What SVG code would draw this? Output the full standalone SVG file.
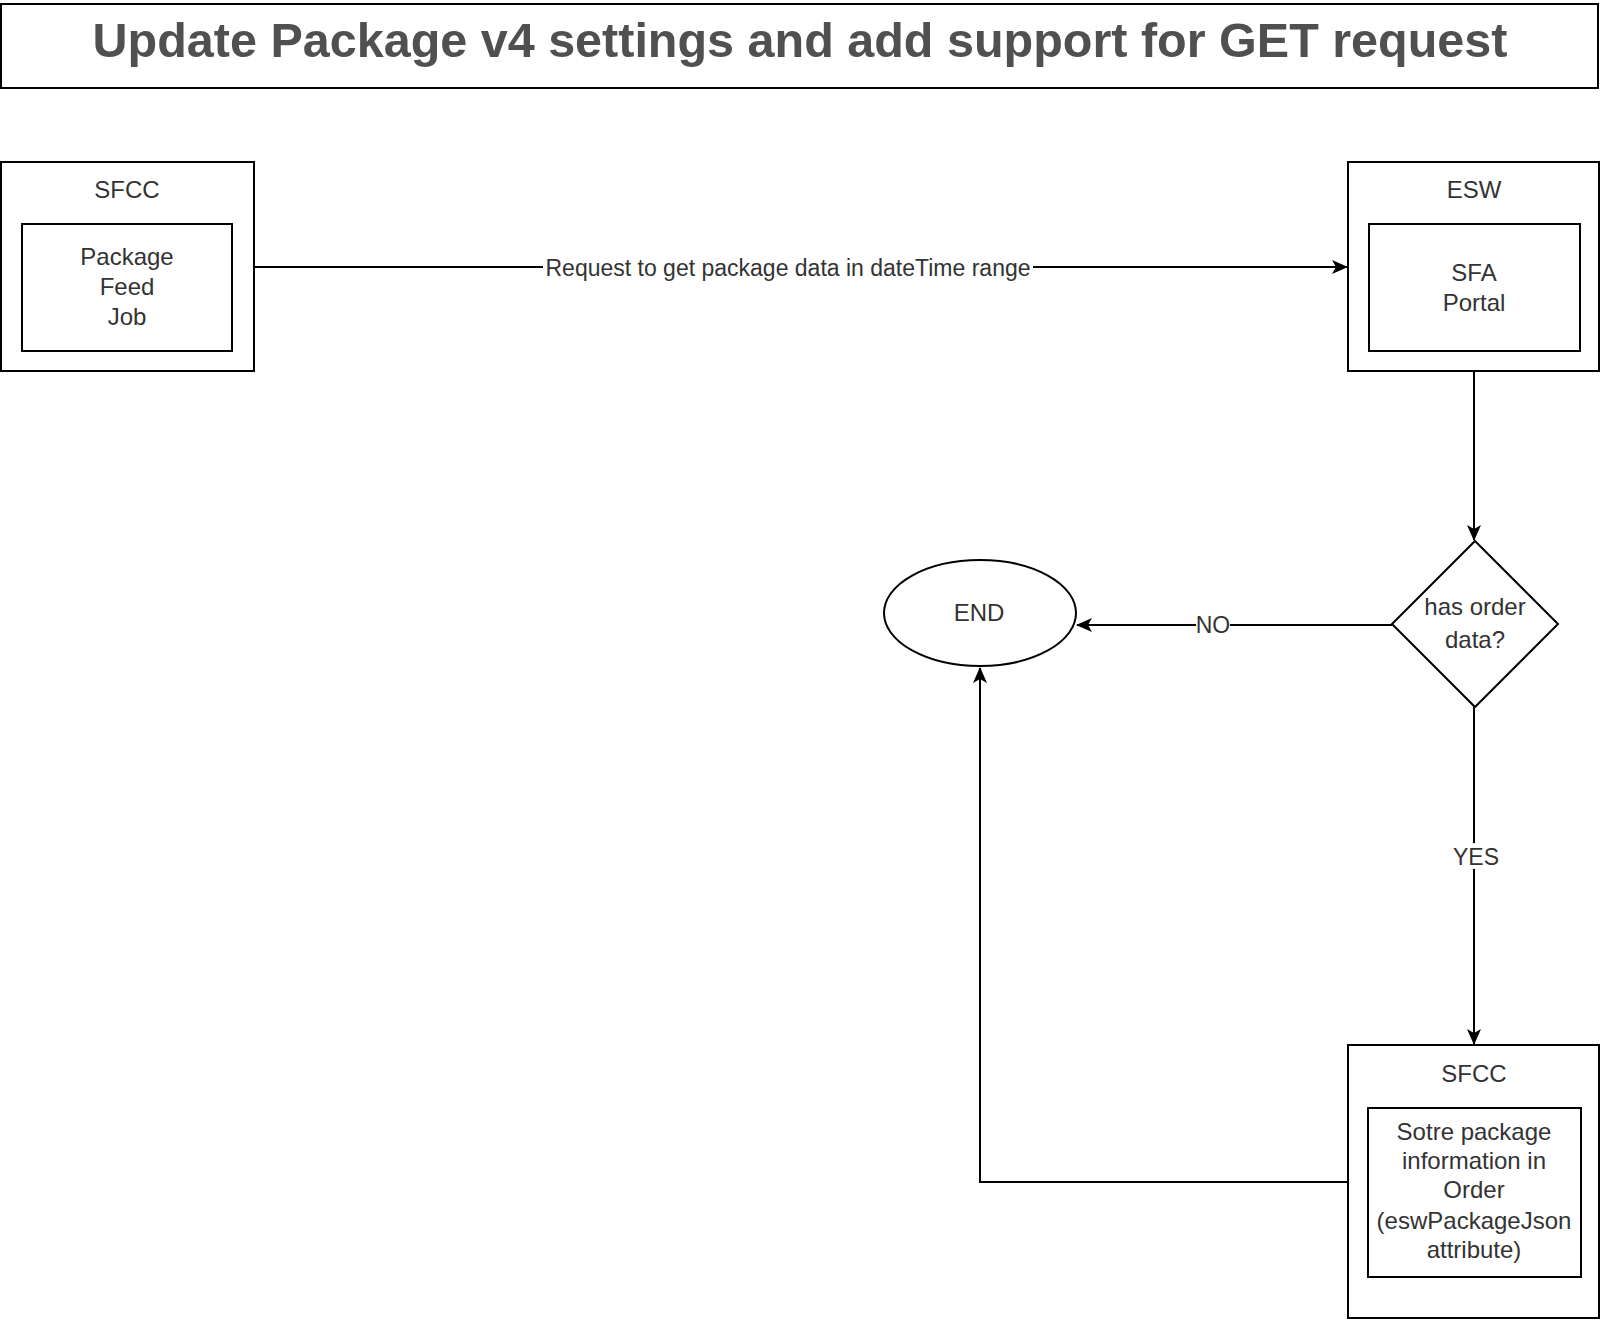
<svg xmlns="http://www.w3.org/2000/svg" width="1600" height="1320" viewBox="0 0 1600 1320">
<style>
.box{fill:#fff;stroke:#000;stroke-width:2}
.t{font-family:"Liberation Sans",Arial,sans-serif;font-size:24px;fill:#333;text-anchor:middle}
.lbl{font-family:"Liberation Sans",Arial,sans-serif;font-size:23px;fill:#333;text-anchor:middle}
.title{font-family:"Liberation Sans",Arial,sans-serif;font-size:48.5px;font-weight:bold;fill:#505050;text-anchor:middle}
.edge{fill:none;stroke:#000;stroke-width:2}
</style>
<defs>
<marker id="arr" viewBox="0 0 16 16" refX="15" refY="8" markerWidth="16" markerHeight="16" markerUnits="userSpaceOnUse" orient="auto">
<path d="M0,1 L16,8 L0,15 L4,8 z" fill="#000"/>
</marker>
</defs>
<rect width="1600" height="1320" fill="#fff"/>
<g id="title">
<rect class="box" x="1" y="4" width="1597" height="84"/>
<text class="title" x="800" y="57">Update Package v4 settings and add support for GET request</text>
</g>
<g id="connectors">
<path class="edge" d="M254,267 L1347,267" marker-end="url(#arr)"/>
<rect x="543" y="254" width="490" height="26" fill="#fff"/>
<text class="lbl" x="788" y="276">Request to get package data in dateTime range</text>
<path class="edge" d="M1474,372 L1474,540" marker-end="url(#arr)"/>
<path class="edge" d="M1392,625 L1077,625" marker-end="url(#arr)"/>
<rect x="1196" y="612" width="34" height="26" fill="#fff"/>
<text class="lbl" x="1213" y="633">NO</text>
<path class="edge" d="M1474,707 L1474,1044" marker-end="url(#arr)"/>
<rect x="1452" y="843" width="46" height="26" fill="#fff"/>
<text class="lbl" x="1476" y="865">YES</text>
<path class="edge" d="M1348,1182 L980,1182 L980,668" marker-end="url(#arr)"/>
</g>
<g id="sfcc-top">
<rect class="box" x="1" y="162" width="253" height="209"/>
<text class="t" x="127" y="198">SFCC</text>
<rect class="box" x="22" y="224" width="210" height="127"/>
<text class="t" x="127" y="265">Package</text>
<text class="t" x="127" y="295">Feed</text>
<text class="t" x="127" y="325">Job</text>
</g>
<g id="esw">
<rect class="box" x="1348" y="162" width="251" height="209"/>
<text class="t" x="1474" y="198">ESW</text>
<rect class="box" x="1369" y="224" width="211" height="127"/>
<text class="t" x="1474" y="281">SFA</text>
<text class="t" x="1474" y="311">Portal</text>
</g>
<g id="decision">
<path class="box" d="M1475,541 L1558,624 L1475,707 L1392,624 Z"/>
<text class="t" x="1475" y="615">has order</text>
<text class="t" x="1475" y="648">data?</text>
</g>
<g id="end">
<ellipse class="box" cx="980" cy="613" rx="96" ry="53"/>
<text class="t" x="979" y="621">END</text>
</g>
<g id="sfcc-bottom">
<rect class="box" x="1348" y="1045" width="251" height="273"/>
<text class="t" x="1474" y="1082">SFCC</text>
<rect class="box" x="1368" y="1108" width="213" height="169"/>
<text class="t" x="1474" y="1140">Sotre package</text>
<text class="t" x="1474" y="1169">information in</text>
<text class="t" x="1474" y="1198">Order</text>
<text class="t" x="1474" y="1229">(eswPackageJson</text>
<text class="t" x="1474" y="1258">attribute)</text>
</g>
</svg>
